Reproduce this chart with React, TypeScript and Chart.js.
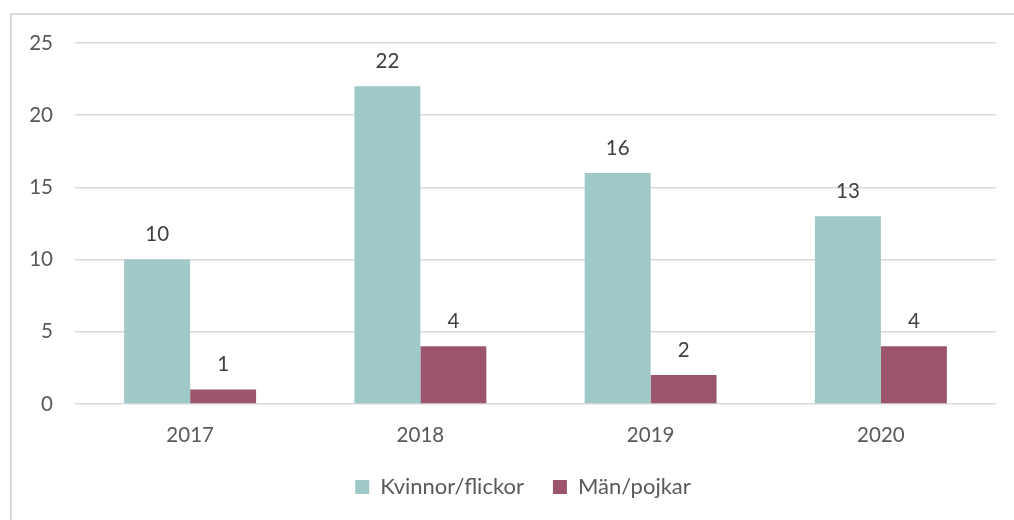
import React, { useEffect, useRef } from "react";
import { Chart, registerables } from "chart.js";

Chart.register(...registerables);

const categories = ["2017", "2018", "2019", "2020"];
const womenValues = [10, 22, 16, 13];
const menValues = [1, 4, 2, 4];
const seriesNames = ["Kvinnor/flickor", "Män/pojkar"];
const yTicks = [0, 5, 10, 15, 20, 25];

const FONT = "Lato, 'Open Sans', sans-serif";
const TEXT = "#595959";

const labelPlugin = {
  id: "valueLabels",
  afterLayout(chart: any) {
    if (chart.legend) {
      chart.legend.left = 50;
    }
  },
  afterDatasetsDraw(chart: any) {
    const ctx = chart.ctx;
    ctx.save();
    ctx.font = `20.5px ${FONT}`;
    ctx.fillStyle = "#404040";
    ctx.textAlign = "center";
    ctx.textBaseline = "middle";
    chart.data.datasets.forEach((ds: any, i: number) => {
      const meta = chart.getDatasetMeta(i);
      meta.data.forEach((bar: any, j: number) => {
        ctx.fillText(String(ds.data[j]), bar.x, bar.y - 25);
      });
    });
    ctx.restore();
  },
};

export default function App() {
  const ref = useRef<HTMLCanvasElement | null>(null);
  useEffect(() => {
    if (!ref.current) return;
    const chart = new Chart(ref.current, {
      type: "bar",
      data: {
        labels: categories,
        datasets: [
          {
            label: seriesNames[0],
            data: womenValues,
            backgroundColor: "#9FC9C8",
            categoryPercentage: 0.573,
            barPercentage: 1,
          },
          {
            label: seriesNames[1],
            data: menValues,
            backgroundColor: "#9B566E",
            categoryPercentage: 0.573,
            barPercentage: 1,
          },
        ],
      },
      options: {
        responsive: false,
        animation: false,
        layout: { padding: { top: 43, right: 18, bottom: 12, left: 0 } },
        plugins: {
          tooltip: { enabled: false },
          legend: {
            position: "bottom",
            labels: {
              font: { family: FONT, size: 22 },
              color: TEXT,
              boxWidth: 14,
              boxHeight: 14,
              padding: 29,
            },
          },
        },
        scales: {
          x: {
            grid: { display: false, drawTicks: false },
            border: { display: false },
            ticks: { font: { family: FONT, size: 20.5 }, color: TEXT, padding: 19 },
            afterFit(scale: any) {
              scale.height = 43;
            },
          },
          y: {
            min: 0,
            max: 25,
            afterBuildTicks(scale: any) {
              scale.ticks = yTicks.map((v) => ({ value: v }));
            },
            afterFit(scale: any) {
              scale.width = 75;
            },
            grid: { color: "#D9D9D9", lineWidth: 1.5, drawTicks: false },
            border: { display: false },
            ticks: { font: { family: FONT, size: 20.5 }, color: TEXT, padding: 22 },
          },
        },
      },
      plugins: [labelPlugin],
    });
    return () => chart.destroy();
  }, []);
  return (
    <div style={{ position: "fixed", left: 0, top: 0, width: 1014, height: 520, background: "#fff", overflow: "hidden" }}>
      <div
        style={{
          position: "absolute",
          left: 10,
          top: 13,
          width: 1100,
          height: 600,
          borderLeft: "2px solid #D9D9D9",
          borderTop: "2px solid #D9D9D9",
        }}
      />
      <canvas ref={ref} width={1014} height={520} style={{ position: "absolute", left: 0, top: 0 }} />
    </div>
  );
}
